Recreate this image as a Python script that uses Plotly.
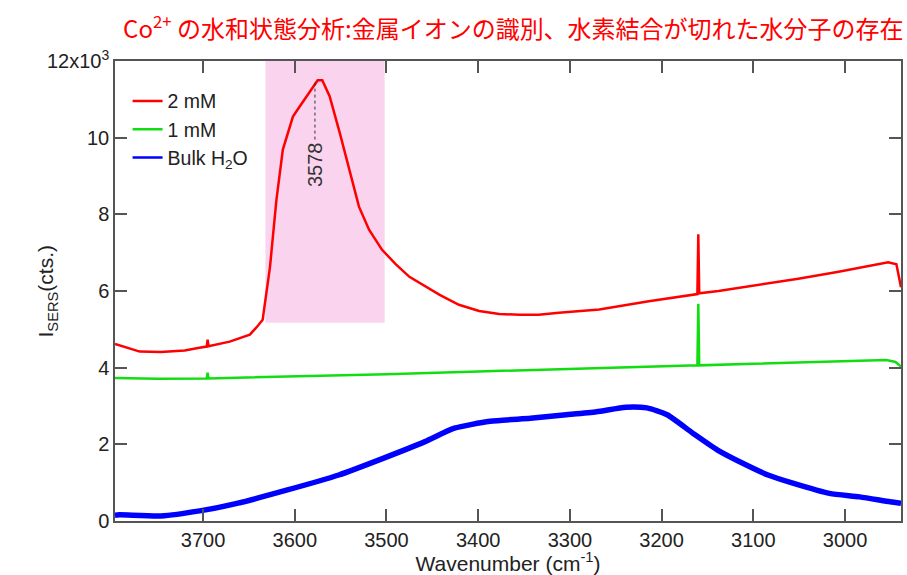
import plotly.graph_objects as go

# ---- data (intensity in units of 10^3 cts) ----
red_wn = [3796, 3769, 3746, 3720, 3704, 3696, 3695, 3694, 3671, 3649, 3640, 3635, 3627, 3620,
          3613, 3602, 3595, 3584, 3575, 3570, 3562, 3551, 3540, 3530, 3519, 3505, 3490, 3475,
          3442, 3421, 3399, 3377, 3355, 3334, 3312, 3268, 3214, 3161, 3160, 3159, 3138, 3094,
          3051, 3007, 2975, 2953, 2944, 2939]
red_val = [4.62, 4.42, 4.41, 4.45, 4.52, 4.55, 4.73, 4.56, 4.68, 4.86, 5.10, 5.25, 6.63, 8.38,
           9.69, 10.55, 10.80, 11.17, 11.50, 11.50, 11.08, 10.13, 9.09, 8.20, 7.60, 7.08, 6.70, 6.37,
           5.90, 5.64, 5.48, 5.40, 5.38, 5.38, 5.43, 5.52, 5.73, 5.92, 7.48, 5.94, 6.00, 6.16,
           6.32, 6.50, 6.66, 6.75, 6.70, 6.10]

green_wn = [3796, 3750, 3696, 3695, 3694, 3600, 3500, 3400, 3300, 3200, 3161, 3160, 3159,
            3100, 3000, 2955, 2945, 2939]
green_val = [3.73, 3.71, 3.72, 3.87, 3.72, 3.77, 3.83, 3.90, 3.96, 4.03, 4.06, 5.67, 4.06,
             4.10, 4.17, 4.20, 4.15, 4.03]

blue_wn = [3796, 3791, 3746, 3702, 3663, 3608, 3552, 3503, 3458, 3426, 3387, 3343, 3304, 3271,
           3239, 3216, 3194, 3166, 3139, 3111, 3084, 3056, 3017, 2984, 2951, 2939]
blue_val = [0.15, 0.16, 0.13, 0.27, 0.46, 0.81, 1.20, 1.64, 2.07, 2.42, 2.60, 2.68, 2.77, 2.85,
            2.97, 2.95, 2.77, 2.29, 1.85, 1.50, 1.20, 0.98, 0.72, 0.63, 0.50, 0.46]

series_names = ["2 mM", "1 mM", "Bulk H<sub>2</sub>O"]
series_colors = ["#FF0000", "#11DD11", "#0000FF"]
x_ticks = [3700, 3600, 3500, 3400, 3300, 3200, 3100, 3000]
y_ticks = [0, 2, 4, 6, 8, 10, 12]
y_ticktext = ["0", "2", "4", "6", "8", "10", "12x10<sup>3</sup>"]

band_wn = [3632, 3502]
band_bottom = 5.17
peak_wn = 3578
peak_val = 11.5
peak_label_val = 9.95

title = "Co<sup>2+</sup> の水和状態分析:金属イオンの識別、水素結合が切れた水分子の存在"

FONT = "Liberation Sans, Arial"

fig = go.Figure()
fig.add_trace(go.Scatter(x=red_wn, y=red_val, mode="lines", showlegend=False,
                         line=dict(color=series_colors[0], width=2.5)))
fig.add_trace(go.Scatter(x=green_wn, y=green_val, mode="lines", showlegend=False,
                         line=dict(color=series_colors[1], width=2.5)))
fig.add_trace(go.Scatter(x=blue_wn, y=blue_val, mode="lines", showlegend=False,
                         line=dict(color=series_colors[2], width=5.5, shape="spline", smoothing=0.6)))
# legend entries (thin lines like the reference)
for name, col in zip(series_names, series_colors):
    fig.add_trace(go.Scatter(x=[None], y=[None], mode="lines", name=name,
                             line=dict(color=col, width=2.5)))

fig.add_shape(type="rect", xref="x", yref="y", x0=band_wn[0], x1=band_wn[1],
              y0=band_bottom, y1=12, fillcolor="#FAD4EE", line=dict(width=0), layer="below")
fig.add_shape(type="line", xref="x", yref="y", x0=peak_wn, x1=peak_wn,
              y0=peak_label_val, y1=peak_val, line=dict(color="#333333", width=1, dash="dot"))
fig.add_annotation(x=peak_wn, y=peak_label_val, xref="x", yref="y", text=str(peak_wn),
                   textangle=-90, showarrow=False, yanchor="top", xanchor="center",
                   font=dict(size=20, color="#333333", family=FONT))

fig.add_annotation(x=-0.105, y=0.5, xref="paper", yref="paper",
                   text="I<sub>SERS</sub>(cts.)", textangle=-90, showarrow=False,
                   font=dict(size=21, color="#222222", family=FONT))

axis_common = dict(showline=True, linecolor="#555555", linewidth=1.5, mirror="ticks",
                   ticks="inside", ticklen=12, tickwidth=1.5, tickcolor="#555555",
                   showgrid=False, zeroline=False,
                   tickfont=dict(size=20, color="#222222", family=FONT))

fig.update_layout(
    width=907, height=575,
    margin=dict(l=115, r=4, t=61, b=54),
    paper_bgcolor="white", plot_bgcolor="white",
    title=dict(text=title, x=0.566, xanchor="center", y=0.948, yanchor="middle", yref="container",
               font=dict(size=24, color="#FF0000", family="Noto Sans CJK JP")),
    xaxis=dict(range=[3796, 2939], tickvals=x_ticks,
               title=dict(text="Wavenumber (cm<sup>-1</sup>)", standoff=6,
                          font=dict(size=21, color="#222222", family=FONT)),
               **axis_common),
    yaxis=dict(range=[0, 12], tickvals=y_ticks, ticktext=y_ticktext, **axis_common),
    legend=dict(x=0.016, y=0.955, xanchor="left", yanchor="top", bgcolor="rgba(0,0,0,0)",
                font=dict(size=19.5, color="#222222", family=FONT),
                tracegroupgap=0, itemwidth=30),
    showlegend=True,
)

fig.write_html("out.html")
